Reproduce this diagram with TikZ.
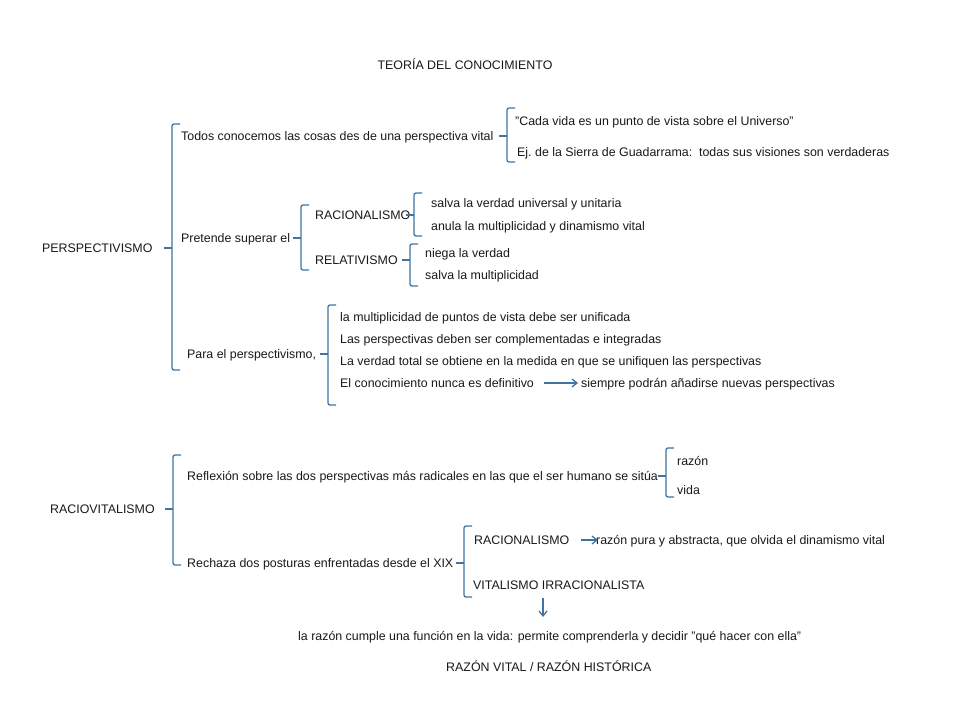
\documentclass[tikz,border=0pt]{standalone}
\usepackage{fontspec}
\setmainfont{Liberation Sans}
\usetikzlibrary{arrows.meta}
\definecolor{azul}{HTML}{3F74A3}

% bracket: #1 parent node, #2 x of the spine, #3 top, #4 bottom
\newcommand\llave[4]{%
  \coordinate (#1-br) at (#2,0);
  \draw[brk, rounded corners=2pt] (#2+8,#3) -- (#2,#3) -- (#2,#4) -- (#2+8,#4);
  \draw[brk] (#1.east -| #1-br) -- ++(-8,0);
}

\begin{document}
\begin{tikzpicture}[x=1pt, y=-1pt,
                  txt/.style={anchor=west, inner sep=0pt, text height=9pt, text depth=0pt,
                              font=\fontsize{12.4}{15}\selectfont, text=black!90},
                  brk/.style={draw=azul, line width=1.3pt},
                  arr/.style={-{Straight Barb[length=5pt, width=8pt]}, draw=azul, line width=1.3pt},
            ]
            \useasboundingbox[fill=white] (0,0) rectangle (960,720);

            \node[txt, anchor=center] (title) at (465,65) {TEORÍA DEL CONOCIMIENTO};

            % perspectivismo
            \node[txt] (persp) at (42,248) {PERSPECTIVISMO};
            \node[txt] (todos) at (181,136) {Todos conocemos las cosas des de una perspectiva vital};
            \node[txt] (cada) at (515,121) {"Cada vida es un punto de vista sobre el Universo"};
            \node[txt] (ej) at (517,152) {Ej.\ de la Sierra de Guadarrama:\ \ todas sus visiones son verdaderas};
            \node[txt] (pret) at (181,238) {Pretende superar el};
            \node[txt] (racio) at (315,215) {RACIONALISMO};
            \node[txt] (salvaver) at (431,203) {salva la verdad universal y unitaria};
            \node[txt] (anula) at (431,226) {anula la multiplicidad y dinamismo vital};
            \node[txt] (rela) at (315,260) {RELATIVISMO};
            \node[txt] (niega) at (425,253) {niega la verdad};
            \node[txt] (salvamul) at (425,275) {salva la multiplicidad};
            \node[txt] (para) at (187,354) {Para el perspectivismo,};
            \node[txt] (unif) at (340,317) {la multiplicidad de puntos de vista debe ser unificada};
            \node[txt] (compl) at (340,339) {Las perspectivas deben ser complementadas e integradas};
            \node[txt] (total) at (340,361) {La verdad total se obtiene en la medida en que se unifiquen las perspectivas};
            \node[txt] (nunca) at (340,383) {El conocimiento nunca es definitivo};
            \node[txt] (siempre) at (581,383) {siempre podrán añadirse nuevas perspectivas};

            \llave{persp}{172}{124}{370}
            \llave{todos}{507}{108}{162}
            \llave{pret}{301}{205}{270}
            \llave{racio}{414}{193}{236}
            \llave{rela}{410}{244}{286}
            \llave{para}{328}{305}{405}
            \draw[arr, shorten <=10pt, shorten >=3pt] (nunca) -- (siempre);

            % raciovitalismo
            \node[txt] (raciov) at (50,509) {RACIOVITALISMO};
            \node[txt] (refl) at (187,476) {Reflexión sobre las dos perspectivas más radicales en las que el ser humano se sitúa};
            \node[txt] (razon) at (677,461) {razón};
            \node[txt] (vida) at (677,490) {vida};
            \node[txt] (rech) at (187,563) {Rechaza dos posturas enfrentadas desde el XIX};
            \node[txt] (racioii) at (474,540) {RACIONALISMO};
            \node[txt] (pura) at (596,540) {razón pura y abstracta, que olvida el dinamismo vital};
            \node[txt] (vital) at (473,585) {VITALISMO IRRACIONALISTA};
            \node[txt] (cumple) at (298,636) {la razón cumple una función en la vida: permite comprenderla y decidir "qué hacer con ella"};
            \node[txt] (rvital) at (446,667) {RAZÓN VITAL / RAZÓN HISTÓRICA};

            \llave{raciov}{173}{455}{565}
            \llave{refl}{666}{448}{497}
            \llave{rech}{464}{526}{597}
            \draw[arr, shorten <=12pt, shorten >=-2pt] (racioii) -- (pura);
            \coordinate (baja) at (543,617);
            \draw[arr] ([yshift=-8pt]vital.south -| baja) -- (baja);
      \end{tikzpicture}
\end{document}
